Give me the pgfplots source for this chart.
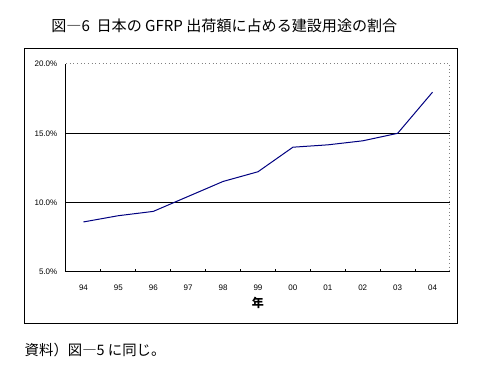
\documentclass[border=0pt]{standalone}
\usepackage{pgfplots}
\pgfplotsset{compat=1.18}
\usepackage{fontspec}
\setmainfont{Liberation Sans}
\newfontfamily\jp{Noto Sans CJK JP}
\definecolor{navyline}{RGB}{0,0,128}
\begin{document}
\begin{tikzpicture}
% canvas 480x372 px, 1px = 0.75pt
\path (0,0) rectangle (360pt,279pt);
\draw[black, line width=0.75pt] (18.75pt,36pt) rectangle (343.5pt,242.25pt);
\node[anchor=west, font=\jp\fontsize{11.3}{13}\selectfont] at (35pt,259.5pt) {図―6\ \ 日本の GFRP 出荷額に占める建設用途の割合};
\node[anchor=west, font=\jp\fontsize{10.8}{12}\selectfont] at (15pt,16.5pt) {資料）図―5 に同じ。};
\begin{axis}[
  at={(49.5pt,75pt)}, anchor=south west,
  scale only axis, width=288pt, height=156pt,
  xmin=-0.5, xmax=10.5, ymin=5, ymax=20,
  axis x line*=bottom, axis y line*=left,
  axis line style={-, black, line width=0.75pt},
  xtick={0,...,10},
  xticklabels={94,95,96,97,98,99,00,01,02,03,04},
  minor xtick={0.5,1.5,...,9.5},
  major x tick style={draw=none},
  minor x tick style={black, line width=0.75pt},
  minor tick length=2.5pt,
  tick align=inside,
  ytick={5,10,15,20},
  yticklabels={5.0\%,10.0\%,15.0\%,20.0\%},
  major y tick style={draw=none},
  extra y ticks={10,15},
  extra y tick labels={},
  extra y tick style={grid=major, major grid style={black, line width=0.75pt}},
  ticklabel style={font=\fontsize{6}{7}\selectfont},
  xticklabel style={yshift=-6pt},
  yticklabel style={xshift=-3pt},
  xlabel={\jp\bfseries 年},
  xlabel style={font=\fontsize{9}{10}\selectfont, yshift=2pt},
  /pgf/number format/assume math mode=true,
  clip=false,
]
\draw[gray, dotted, line width=0.75pt] (rel axis cs:0,1) -- (rel axis cs:1,1) -- (rel axis cs:1,0);
\addplot[navyline, line width=0.75pt] coordinates {
(0,8.61) (1,9.06) (2,9.37) (3,10.45) (4,11.53) (5,12.23) (6,14.0) (7,14.17) (8,14.46) (9,15.0) (10,17.97)
};
\end{axis}
\end{tikzpicture}
\end{document}
